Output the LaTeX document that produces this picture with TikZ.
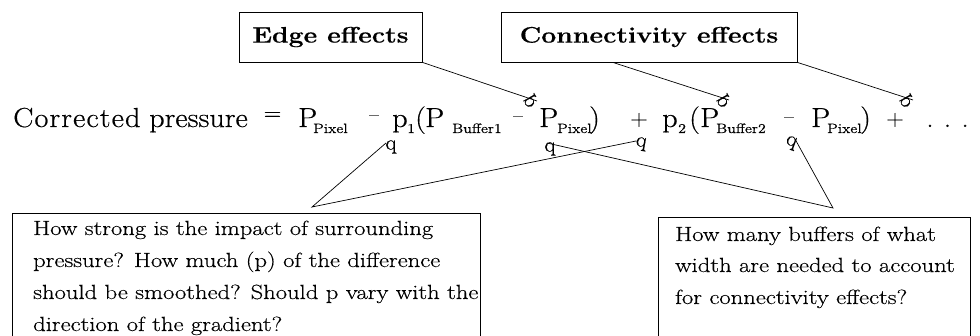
\documentclass[tikz,border=0pt]{standalone}
\usepackage{fontspec}
\setmainfont{Latin Modern Roman}
\newfontfamily\eqf[FakeStretch=1.1,FakeBold=0.5]{Latin Modern Roman}
\newfontfamily\widef[FakeStretch=1.18,FakeBold=0.5]{Latin Modern Roman}
\newfontfamily\boxf[FakeStretch=1.2,FakeBold=0.4]{Latin Modern Roman}
\usetikzlibrary{calc}
\tikzset{
  eq/.style={inner sep=0pt, anchor=base west, font=\eqf\fontsize{27.5}{30}\selectfont},
  sub/.style={inner sep=0pt, anchor=base west, font=\widef\fontsize{13.5}{15}\selectfont},
  op/.style={inner sep=0pt, anchor=center, font=\eqf\fontsize{22}{24}\selectfont},
  mn/.style={inner sep=0pt, anchor=center, font=\eqf\fontsize{19}{20}\selectfont},
  head/.style={draw, line width=0.8pt, inner sep=0pt, font=\widef\bfseries\fontsize{22.5}{24}\selectfont},
  qbox/.style={draw, line width=0.8pt, inner sep=0pt, anchor=north west},
  qline/.style={inner sep=0pt, anchor=base west, font=\boxf\fontsize{20.5}{22}\selectfont},
  qmark/.style={inner sep=0pt, anchor=center, font=\eqf\fontsize{21}{22}\selectfont},
  conn/.style={line width=0.7pt}
}
\begin{document}
\begin{tikzpicture}[x=1pt,y=-1pt]
\useasboundingbox (0,0) rectangle (980,336);
% headers
\node[head, minimum width=183pt, minimum height=50pt] (edge) at (330.5,37) {Edge effects};
\node[head, minimum width=296pt, minimum height=50pt] (conn) at (649,37) {Connectivity effects};
% equation
\node[eq] (cor) at (13,127) {\addfontfeatures{LetterSpace=4}Corrected};
\node[eq] (pre) at (149,127) {pressure};
\node[op] (eqs) at (272.5,116) {=};
\node[eq] (P0) at (298,127) {P};
\node[sub] (s0) at (313,133) {Pixel};
\node[mn] (m1) at (374,118) {–};
\node[eq] (p1) at (392,127) {p};
\node[sub] (s1) at (407,133) {1};
\node[eq] (o1) at (415,127) {(};
\node[eq] (P1) at (425,127) {P};
\node[sub] (sb1) at (452,133) {Buffer1};
\node[mn] (m2) at (518,119) {–};
\node[eq] (P2) at (539,127) {P};
\node[sub] (s2) at (557,133) {Pixel};
\node[eq] (c1) at (589,127) {)};
\node[op] (pl1) at (639,120) {+};
\node[eq] (p2) at (662,127) {p};
\node[sub] (s3) at (678,133) {2};
\node[eq] (o2) at (689,127) {(};
\node[eq] (P3) at (700,127) {P};
\node[sub] (sb2) at (716,133) {Buffer2};
\node[mn] (m3) at (789,120) {–};
\node[eq] (P4) at (811,127) {P};
\node[sub] (s4) at (827,133) {Pixel};
\node[eq] (c2) at (860,127) {)};
\node[op] (pl2) at (895,120) {+};
\node[eq] (dots) at (926,127) {.\hspace{10pt}.\hspace{10pt}.};
% q marks
\node[qmark] (q1) at (391,147) {q};
\node[qmark] (q2) at (550,149) {q};
\node[qmark, rotate=-10] (q3) at (641,144) {q};
\node[qmark, rotate=-20] (q4) at (791,143) {q};
\node[qmark, rotate=120] (q5) at (531,101) {q};
\node[qmark, rotate=120] (q6) at (724,101) {q};
\node[qmark, rotate=120] (q7) at (907,101) {q};
% connector ends
\coordinate (t5) at (537,101);
\coordinate (t6) at (729,100);
\coordinate (t7) at (913,100);
\coordinate (t1) at (386,143);
\coordinate (t3) at (636,141);
\coordinate (t2) at (547,143);
\coordinate (t4) at (795,139);
\coordinate (la) at (312,207);
\coordinate (ra) at (833,208);
\draw[conn] (edge.south east) -- (t5);
\draw[conn] ($(conn.south west)!0.378!(conn.south east)$) -- (t6);
\draw[conn] (conn.south east) -- (t7);
\draw[conn] (t1) -- (la) -- (t3);
\draw[conn] (t2) -- (ra) -- (t4);
% bottom boxes
\begin{scope}
\clip (0,0) rectangle (980,336);
\node[qbox, minimum width=468pt, minimum height=140pt] (lbox) at (12,213) {};
\node[qbox, minimum width=312pt, minimum height=140pt] (rbox) at (658,217) {};
\end{scope}
\node[qline] (l1) at (33,235) {How strong is the impact of surrounding};
\node[qline] (l2) at (33,267) {pressure? How much (p) of the difference};
\node[qline] (l3) at (33,299) {should be smoothed? Should p vary with the};
\node[qline] (l4) at (33,331) {direction of the gradient?};
\node[qline] (r1) at (675,241) {How many buffers of what};
\node[qline] (r2) at (675,272) {width are needed to account};
\node[qline] (r3) at (675,304) {for connectivity effects?};
\end{tikzpicture}
\end{document}
